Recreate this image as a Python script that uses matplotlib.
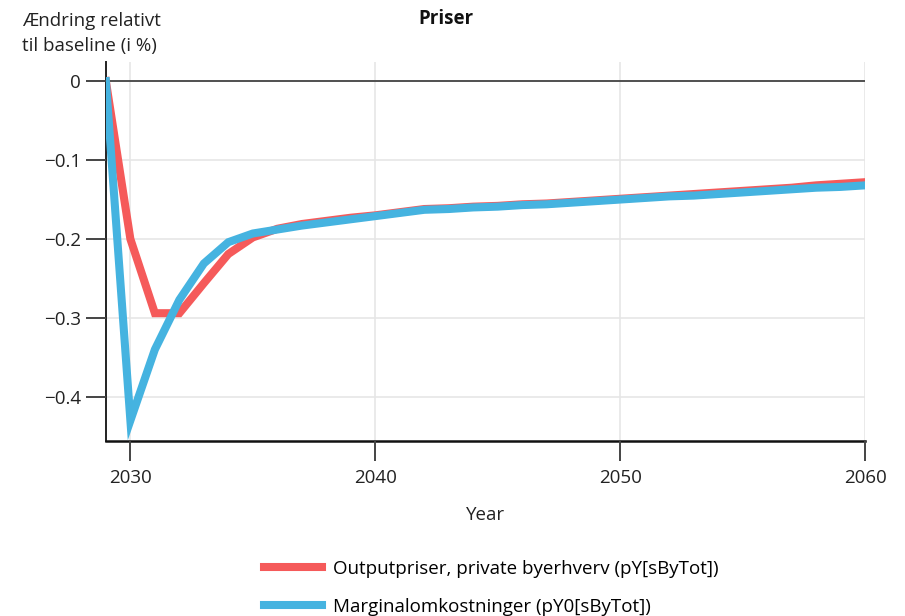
import matplotlib
matplotlib.use("Agg")
import matplotlib.pyplot as plt

plt.rcParams['font.family'] = ['Open Sans', 'DejaVu Sans']

years = list(range(2029, 2061))

# Outputpriser, private byerhverv (pY[sByTot])
py_out = [0.0, -0.200, -0.294, -0.294, -0.256, -0.219, -0.198, -0.187,
          -0.181, -0.177, -0.173, -0.170, -0.166, -0.162, -0.161, -0.159,
          -0.158, -0.156, -0.155, -0.153, -0.151, -0.149, -0.147, -0.145,
          -0.143, -0.141, -0.139, -0.137, -0.135, -0.132, -0.130, -0.128]

# Marginalomkostninger (pY0[sByTot])
py0_marg = [0.0, -0.430, -0.340, -0.277, -0.231, -0.204, -0.193, -0.188,
            -0.183, -0.179, -0.175, -0.171, -0.167, -0.163, -0.162, -0.160,
            -0.159, -0.157, -0.156, -0.154, -0.152, -0.150, -0.148, -0.146,
            -0.145, -0.143, -0.141, -0.139, -0.137, -0.135, -0.134, -0.132]

labels = ["Outputpriser, private byerhverv (pY[sByTot])",
          "Marginalomkostninger (pY0[sByTot])"]
colors = ["#F55A5A", "#45B3E0"]

yticks = [0, -0.1, -0.2, -0.3, -0.4]
ytick_labels = ["0", "\u22120.1", "\u22120.2", "\u22120.3", "\u22120.4"]
xticks = [2030, 2040, 2050, 2060]

fs = 13.5

fig = plt.figure(figsize=(9.05, 6.16), dpi=100)
ax = fig.add_axes([0.117, 0.284, 0.839, 0.615])

ax.plot(years, py_out, color=colors[0], lw=5.8, label=labels[0],
        solid_joinstyle="miter", zorder=3)
ax.plot(years, py0_marg, color=colors[1], lw=5.8, label=labels[1],
        solid_joinstyle="miter", zorder=4)

ax.axhline(0, color="#444444", lw=1.3, zorder=2)

ax.set_xlim(2029, 2060)
ax.set_ylim(-0.456, 0.024)
ax.set_xticks(xticks)
ax.set_yticks(yticks)
ax.set_yticklabels(ytick_labels)
ax.grid(True, color="#e6e6e6", lw=1.2)
ax.set_axisbelow(True)

for s in ["top", "right"]:
    ax.spines[s].set_visible(False)
ax.spines["left"].set_color("#222222")
ax.spines["left"].set_linewidth(1.4)
ax.spines["bottom"].set_color("#111111")
ax.spines["bottom"].set_linewidth(1.8)

# tick marks drawn as short lines outside the axes
ax.tick_params(length=0, labelsize=fs, labelcolor="#222222")
ax.tick_params(axis="y", pad=18)
ax.tick_params(axis="x", pad=20)
ax.vlines(xticks, -0.053, 0, transform=ax.get_xaxis_transform(),
          color="#444444", lw=1.4, clip_on=False, zorder=5)
ax.hlines(yticks, -0.026, 0, transform=ax.get_yaxis_transform(),
          color="#444444", lw=1.4, clip_on=False, zorder=5)

ax.set_xlabel("Year", fontsize=fs, color="#222222", labelpad=14)
fig.text(0.493, 0.969, "Priser", ha="center", va="center",
         fontsize=fs, fontweight="bold", color="#111111")
fig.text(0.024, 0.946, "\u00c6ndring relativt\ntil baseline (i %)",
         ha="left", va="center", fontsize=fs, color="#222222",
         linespacing=1.49)

fig.legend(loc="upper left", bbox_to_anchor=(0.283, 0.103),
           frameon=False, fontsize=fs, handlelength=3.1, handletextpad=0.6,
           labelspacing=1.05, borderaxespad=0)

fig.savefig("out.png", dpi=100)
